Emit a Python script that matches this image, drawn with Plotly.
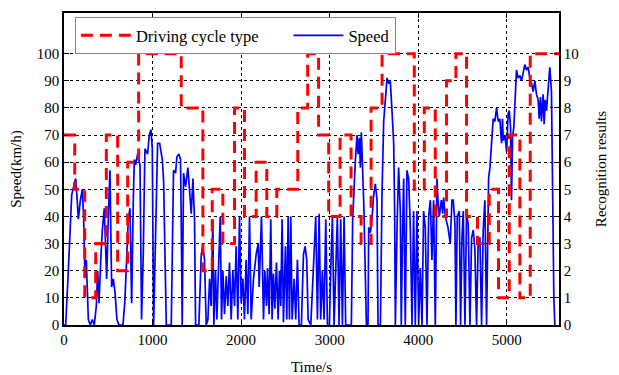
import plotly.graph_objects as go

# Driving cycle type (recognition result) - step changes
cycle_start_s = [0, 121, 234, 358, 478, 606, 719, 843, 1324, 1568, 1674, 1794, 1926, 2038,
                 2170, 2290, 2403, 2640, 2752, 2875, 2989, 3118, 3242, 3355, 3468, 3592,
                 3956, 4069, 4193, 4320, 4426, 4546, 4670, 4802, 4907, 5028, 5148, 5265]
cycle_type = [7, 5, 1, 3, 7, 2, 6, 10, 8, 2, 5, 3, 8, 4, 6, 4, 5, 8, 10, 7, 4, 7, 4, 3, 8, 10,
              5, 8, 4, 9, 10, 4, 3, 5, 1, 7, 1, 10]
end_time_s = 5590

# Vehicle speed trace
speed_t = [0, 19, 49, 87, 109, 132, 147, 162, 185, 207, 222, 237, 252, 275, 297, 320, 342, 365,
           380, 395, 418, 433, 455, 470, 482, 500, 519, 538, 557, 576, 598, 621, 666, 688, 711,
           726, 745, 764, 782, 794, 809, 831, 858, 876, 895, 914, 944, 963, 982, 997, 1012,
           1034, 1057, 1080, 1110, 1125, 1140, 1155, 1211, 1222, 1237, 1260, 1275, 1298, 1316,
           1328, 1335, 1350, 1373, 1399, 1418, 1437, 1456, 1474, 1486, 1523, 1550, 1568, 1587,
           1606, 1625, 1644, 1662, 1681, 1692, 1711, 1726, 1749, 1764, 1779, 1794, 1813, 1832,
           1850, 1869, 1888, 1907, 1926, 1944, 1963, 1982, 2001, 2020, 2038, 2057, 2076, 2095,
           2114, 2140, 2170, 2193, 2204, 2230, 2253, 2268, 2287, 2298, 2317, 2335, 2350, 2365,
           2381, 2399, 2418, 2433, 2448, 2463, 2478, 2501, 2516, 2531, 2546, 2561, 2576, 2599,
           2617, 2636, 2655, 2681, 2704, 2723, 2741, 2757, 2787, 2817, 2843, 2862, 2881, 2899,
           2918, 2937, 2956, 2975, 2997, 3012, 3031, 3050, 3069, 3087, 3106, 3125, 3144, 3163,
           3181, 3245, 3260, 3275, 3291, 3309, 3321, 3336, 3347, 3358, 3373, 3385, 3396, 3415,
           3433, 3441, 3460, 3478, 3497, 3516, 3535, 3546, 3573, 3591, 3610, 3629, 3648, 3667,
           3685, 3704, 3723, 3734, 3742, 3761, 3779, 3798, 3809, 3824, 3836, 3854, 3873, 3892,
           3911, 3930, 3948, 3967, 3986, 4005, 4024, 4043, 4061, 4080, 4099, 4118, 4137, 4155,
           4174, 4193, 4212, 4223, 4238, 4261, 4276, 4287, 4306, 4336, 4362, 4381, 4396, 4415,
           4426, 4441, 4464, 4479, 4494, 4509, 4528, 4546, 4565, 4584, 4603, 4622, 4640, 4659,
           4678, 4697, 4716, 4734, 4753, 4772, 4783, 4795, 4810, 4828, 4847, 4866, 4885, 4904,
           4922, 4941, 4952, 4960, 4979, 4998, 5016, 5028, 5043, 5054, 5065, 5080, 5095, 5110,
           5129, 5148, 5167, 5186, 5204, 5223, 5242, 5261, 5280, 5298, 5317, 5336, 5355, 5366,
           5381, 5392, 5411, 5422, 5434, 5449, 5468, 5486, 5505, 5516, 5532, 5543]
speed_kmh = [0, 0, 20, 48, 51, 54, 47, 39, 46, 50, 39, 18, 24, 2, 0, 2, 0, 7,
             20, 8, 26, 35, 43, 29, 17, 39, 57, 14, 17, 12, 2, 0, 0, 9, 26,
             39, 43, 8, 45, 61, 59, 63, 59, 2, 26, 65, 63, 70, 72, 65, 0,
             39, 67, 67, 61, 53, 26, 0, 0, 32, 57, 56, 62, 63, 61,
             26, 0, 56, 51, 58, 51, 41, 54, 39, 0, 0, 26, 29, 24,
             0, 2, 17, 7, 39, 0, 20, 2, 21, 40, 2, 20, 4, 18,
             7, 23, 2, 20, 7, 29, 2, 40, 8, 17, 2, 24, 4, 40,
             2, 17, 26, 30, 14, 40, 2, 20, 7, 21, 4, 39, 2, 19,
             6, 23, 2, 20, 7, 39, 1, 29, 2, 40, 2, 40, 2, 17,
             2, 24, 0, 0, 26, 29, 24, 2, 0, 20, 40, 2, 41, 2,
             20, 2, 39, 0, 0, 20, 40, 0, 20, 40, 0, 39, 0, 40,
             0, 0, 39, 51, 61, 70, 63, 69, 58, 71, 59, 45, 29, 0,
             0, 36, 34, 39, 48, 52, 46, 0, 0, 48, 75, 83, 91, 89,
             90, 79, 67, 42, 0, 36, 58, 42, 0, 36, 54, 0, 57, 54,
             36, 0, 42, 0, 42, 0, 21, 0, 42, 36, 0, 40, 46, 24,
             46, 0, 54, 46, 40, 46, 41, 47, 40, 36, 30, 46, 46, 37,
             0, 40, 42, 0, 32, 42, 0, 41, 37, 0, 32, 35, 28, 0,
             32, 32, 0, 35, 46, 0, 37, 54, 58, 69, 76, 75, 80, 75,
             76, 67, 76, 68, 70, 64, 78, 79, 73, 46, 69, 73, 86, 94,
             91, 92, 90, 94, 96, 94, 95, 91, 89, 86, 90, 85, 83, 76,
             84, 75, 85, 74, 83, 79, 88, 95, 86, 52, 10, 0]

x_ticks = [0, 1000, 2000, 3000, 4000, 5000]
y_ticks = [0, 10, 20, 30, 40, 50, 60, 70, 80, 90, 100]
y2_ticks = [0, 1, 2, 3, 4, 5, 6, 7, 8, 9, 10]

FONT = "Liberation Serif, Times New Roman, serif"
NB = "\u00a0"

fig = go.Figure()
fig.add_trace(go.Scatter(
    x=cycle_start_s + [end_time_s], y=cycle_type + [cycle_type[-1]],
    mode="lines", line=dict(shape="hv", color="#ff0000", width=3, dash="12px,7px"),
    name="Driving cycle type" + NB * 6, yaxis="y2"))
fig.add_trace(go.Scatter(
    x=speed_t, y=speed_kmh, mode="lines",
    line=dict(color="#0000ff", width=1.7), name="Speed", yaxis="y"))

axis_common = dict(showline=True, linecolor="black", linewidth=1.5, ticks="inside",
                   ticklen=5, tickcolor="black", zeroline=False, automargin=False,
                   tickfont=dict(family=FONT, size=15, color="black"))

fig.update_layout(
    width=619, height=375,
    margin=dict(l=64, r=60, t=13, b=50),
    paper_bgcolor="white", plot_bgcolor="white",
    font=dict(family=FONT, size=15, color="black"),
    showlegend=True,
    legend=dict(orientation="h", x=0.022, y=0.987, xanchor="left", yanchor="top",
                bgcolor="white", bordercolor="#888888", borderwidth=1,
                font=dict(family=FONT, size=16.5, color="black"),
                itemwidth=50, traceorder="normal"),
    xaxis=dict(range=[0, end_time_s], tickvals=x_ticks, mirror="ticks",
               showgrid=True, gridcolor="black", griddash="dot", gridwidth=1,
               title=dict(text="Time/s", font=dict(family=FONT, size=15), standoff=20),
               **axis_common),
    yaxis=dict(range=[0, 115], tickvals=y_ticks, mirror=False,
               showgrid=True, gridcolor="black", griddash="dot", gridwidth=1,
               title=dict(text="Speed(km/h)", font=dict(family=FONT, size=15), standoff=12),
               **axis_common),
    yaxis2=dict(range=[0, 11.5], tickvals=y2_ticks, overlaying="y", side="right",
                showgrid=False,
                title=dict(text="Recognition results", font=dict(family=FONT, size=15), standoff=18),
                **axis_common),
)
fig.write_html("out.html")
